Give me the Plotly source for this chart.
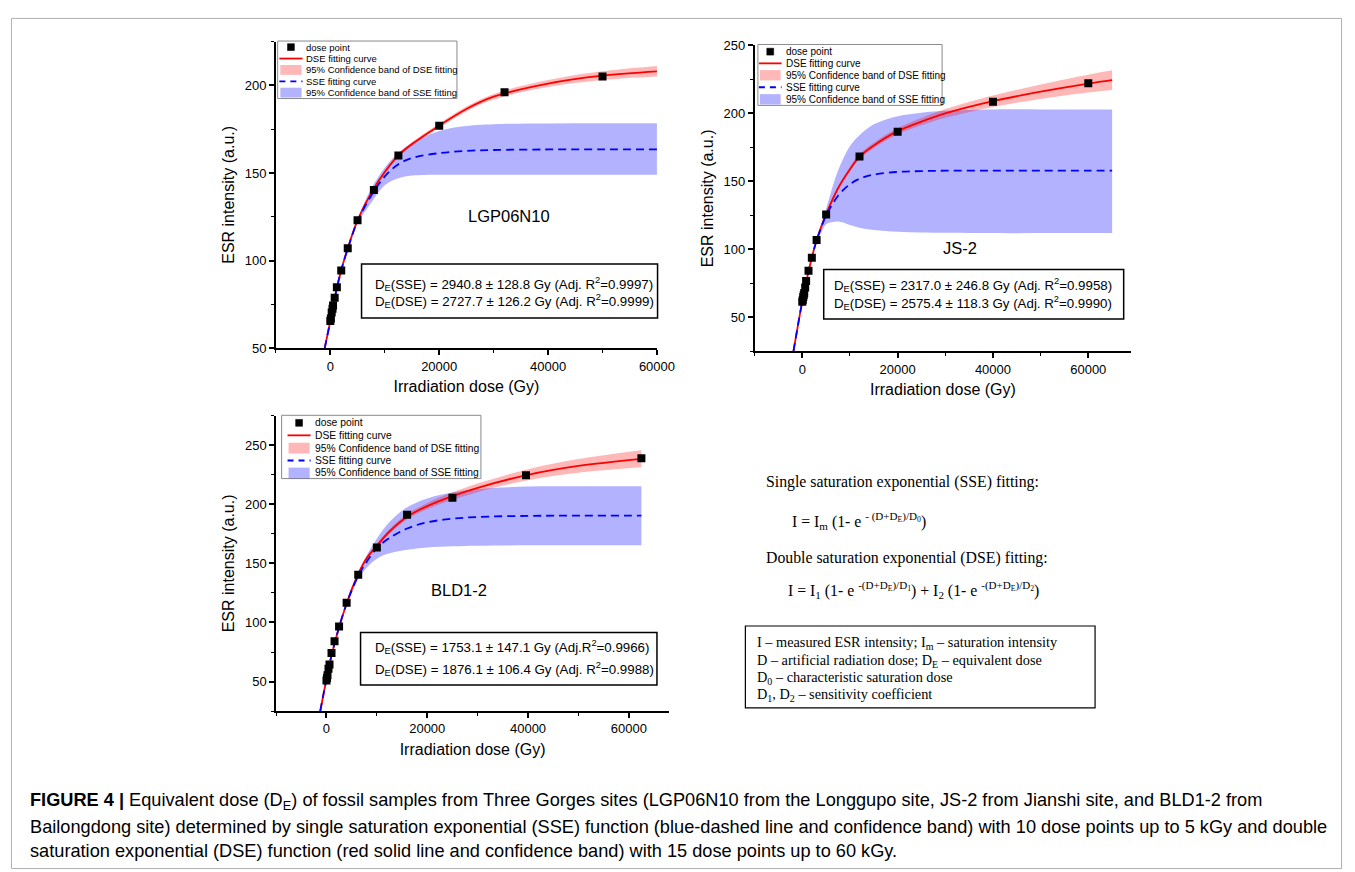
import plotly.graph_objects as go

W, H = 1355, 872

# ---------------- LGP06N10 ----------------
lgp_dose = [0, 100, 250, 400, 500, 800, 1200, 2000, 3200, 5000, 8000, 12500, 20000, 32000, 50000]
lgp_esr = [65.5, 67, 70.4, 72.5, 74.3, 78.8, 84.8, 94.3, 107, 123, 140.3, 160, 177, 196, 205]
lgp_cx = [-1030, 0, 1000, 2000, 3500, 5000, 7500, 10000, 12500, 15000, 20000, 25000, 30000, 40000, 50000, 60000]
lgp_dse = [50, 65.5, 81.5, 94.5, 110, 123, 138.5, 150.5, 160, 166.5, 177, 186.5, 193.5, 201, 205.5, 208]
lgp_dse_hi = [50.3, 66, 82, 95, 110.6, 123.7, 139.3, 151.4, 161, 167.6, 178.2, 187.9, 195.1, 203, 208, 211]
lgp_dse_lo = [49.7, 65, 81, 94, 109.4, 122.3, 137.7, 149.6, 159, 165.4, 175.8, 185.1, 191.9, 199, 203, 205]
lgp_sse = [50, 65.5, 81.5, 94.5, 109.5, 122.5, 137, 148, 155, 158.5, 161.3, 162.6, 163.1, 163.4, 163.5, 163.5]
lgp_sse_hi = [50.3, 66, 82, 95, 110.5, 124, 141, 153, 161.5, 167, 174, 176.8, 177.8, 178.2, 178.3, 178.3]
lgp_sse_lo = [49.7, 65, 81, 94, 108.5, 121, 133, 143, 147, 148.5, 149, 149, 149, 149, 149, 149]

# ---------------- JS-2 ----------------
js_dose = [0, 100, 200, 300, 400, 600, 800, 1300, 2000, 3000, 5000, 12000, 20000, 40000, 60000]
js_esr = [61.5, 63, 65, 66.5, 68, 72, 76.7, 84.4, 93.8, 106.9, 125.7, 168.3, 186.6, 208.6, 222.3]
js_cx = [-1860, 0, 1000, 2000, 3000, 4000, 5000, 7500, 10000, 12000, 15000, 20000, 25000, 30000, 40000, 50000, 60000, 65000]
js_dse = [25, 62, 79, 94, 107, 117, 126, 145, 159, 168.3, 176.5, 187, 194, 200, 209, 216, 222, 224.5]
js_dse_hi = [25.5, 63, 80, 95, 108, 118.2, 127.3, 146.5, 160.7, 170.1, 178.5, 189.3, 196.7, 203.2, 213.2, 221.3, 228.5, 231.7]
js_dse_lo = [24.5, 61, 78, 93, 106, 115.8, 124.7, 143.5, 157.3, 166.5, 174.5, 184.7, 191.3, 196.8, 204.8, 210.7, 215.5, 217.3]
js_sse = [25, 62, 79, 94, 106.5, 116.5, 125, 139.5, 148, 152, 155, 157, 157.6, 157.9, 158, 158, 158, 158]
js_sse_hi = [25.2, 62.5, 79.5, 95, 108, 119, 130, 158, 176, 184, 192, 198, 200.6, 202, 203, 203, 203, 203]
js_sse_lo = [24.8, 61.5, 78.5, 93, 105.5, 112.5, 118.5, 120.5, 118, 116, 114.3, 113, 112.4, 112.2, 112, 112, 112, 112]

# ---------------- BLD1-2 ----------------
bld_dose = [0, 100, 200, 400, 600, 1000, 1600, 2500, 4000, 6300, 10000, 16000, 25000, 39600, 62500]
bld_esr = [51, 53, 55.3, 60.8, 64.4, 74.1, 84.1, 96.6, 116.8, 140.4, 163.5, 191.2, 205.6, 224.5, 238.9]
bld_cx = [-1240, 0, 1000, 2500, 4000, 5000, 6300, 8000, 10000, 12500, 16000, 20000, 25000, 30000, 40000, 50000, 62500]
bld_dse = [25, 52, 72, 96, 116, 128, 141, 154.5, 165, 177, 189.5, 198.5, 207, 214, 225, 232.5, 238.5]
bld_dse_hi = [25.5, 53, 73, 97, 117.1, 129.2, 142.3, 156, 166.7, 179, 191.8, 201.2, 210.2, 217.7, 229.7, 238.3, 245.7]
bld_dse_lo = [24.5, 51, 71, 95, 114.9, 126.8, 139.7, 153, 163.3, 175, 187.2, 195.8, 203.8, 210.3, 220.3, 226.7, 231.3]
bld_sse = [25, 52, 72, 96, 116, 127, 139.5, 151.5, 163, 171.5, 179.5, 184.8, 187.8, 189.3, 190.2, 190.4, 190.4]
bld_sse_hi = [25.2, 52.3, 72.5, 96.7, 117, 129, 143, 157, 171, 185, 197.5, 205, 210, 213, 215, 215.3, 215.3]
bld_sse_lo = [24.8, 51.7, 71.5, 95.3, 115, 125, 136.5, 146.5, 154, 158.5, 161.5, 163.5, 164.5, 165, 165.3, 165.4, 165.4]

legend_labels = ["dose point", "DSE fitting curve", "95% Confidence band of DSE fitting",
                 "SSE fitting curve", "95% Confidence band of SSE fitting"]

RED = "#ff0000"
BLUE = "#0000ff"
RED_BAND = "rgba(255,0,0,0.28)"
BLUE_BAND = "rgba(0,0,255,0.30)"
SANS = "Liberation Sans, Arial, sans-serif"
SERIF = "Liberation Serif, Times New Roman, serif"

fig = go.Figure()


def px(x):
    return x / W


def py(y):
    return 1 - y / H


def add_panel(n, cx, dse, dse_hi, dse_lo, sse, sse_hi, sse_lo, dose, esr):
    xa = "x" if n == 1 else f"x{n}"
    ya = "y" if n == 1 else f"y{n}"
    common = dict(xaxis=xa, yaxis=ya, showlegend=False, hoverinfo="skip")
    fig.add_trace(go.Scatter(x=cx, y=sse_lo, mode="lines", line=dict(width=0, shape="spline"), **common))
    fig.add_trace(go.Scatter(x=cx, y=sse_hi, mode="lines", line=dict(width=0, shape="spline"),
                             fill="tonexty", fillcolor=BLUE_BAND, **common))
    fig.add_trace(go.Scatter(x=cx, y=dse_lo, mode="lines", line=dict(width=0, shape="spline"), **common))
    fig.add_trace(go.Scatter(x=cx, y=dse_hi, mode="lines", line=dict(width=0, shape="spline"),
                             fill="tonexty", fillcolor=RED_BAND, **common))
    fig.add_trace(go.Scatter(x=cx, y=dse, mode="lines", line=dict(color=RED, width=1.8, shape="spline"), **common))
    fig.add_trace(go.Scatter(x=cx, y=sse, mode="lines",
                             line=dict(color=BLUE, width=1.8, shape="spline", dash="8px,5px"), **common))
    fig.add_trace(go.Scatter(x=dose, y=esr, mode="markers",
                             marker=dict(symbol="square", size=8, color="black"), **common))


add_panel(1, lgp_cx, lgp_dse, lgp_dse_hi, lgp_dse_lo, lgp_sse, lgp_sse_hi, lgp_sse_lo, lgp_dose, lgp_esr)
add_panel(2, js_cx, js_dse, js_dse_hi, js_dse_lo, js_sse, js_sse_hi, js_sse_lo, js_dose, js_esr)
add_panel(3, bld_cx, bld_dse, bld_dse_hi, bld_dse_lo, bld_sse, bld_sse_hi, bld_sse_lo, bld_dose, bld_esr)


def xax(x0, x1, rng, anchor):
    return dict(domain=[px(x0), px(x1)], range=rng, anchor=anchor, showline=True, linecolor="black",
                linewidth=1.5, ticks="outside", ticklen=5, tickwidth=1.5, tickcolor="black",
                tick0=0, dtick=20000, tickformat="d",
                minor=dict(dtick=10000, tick0=0, ticks="outside", ticklen=3, tickwidth=1.2, tickcolor="black"),
                showgrid=False, zeroline=False, tickfont=dict(size=13, color="black", family=SANS),
                title=dict(text="Irradiation dose (Gy)", font=dict(size=16, color="black", family=SANS), standoff=8))


def yax(y0, y1, rng, anchor):
    return dict(domain=[py(y0), py(y1)], range=rng, anchor=anchor, showline=True, linecolor="black",
                linewidth=1.5, ticks="outside", ticklen=5, tickwidth=1.5, tickcolor="black",
                tick0=0, dtick=50,
                minor=dict(dtick=25, tick0=0, ticks="outside", ticklen=3, tickwidth=1.2, tickcolor="black"),
                showgrid=False, zeroline=False, tickfont=dict(size=13, color="black", family=SANS),
                title=dict(text="ESR intensity (a.u.)", font=dict(size=16, color="black", family=SANS), standoff=6))


fig.update_layout(
    width=W, height=H, margin=dict(l=0, r=0, t=0, b=0),
    paper_bgcolor="white", plot_bgcolor="rgba(0,0,0,0)",
    xaxis=xax(271.5, 657.7, [-10000, 60000], "y"),
    yaxis=yax(339, 27, [50, 225], "x"),
    xaxis2=xax(756.7, 1138.3, [-10000, 69000], "y2"),
    yaxis2=yax(342.3, 31, [25, 250], "x2"),
    xaxis3=xax(271.7, 670, [-10000, 68000], "y3"),
    yaxis3=yax(708.3, 407.7, [25, 275], "x3"),
    showlegend=False,
)

shapes = []
annotations = []


def rect(x0, y0, x1, y1, line_color="black", lw=1.5, fill="rgba(0,0,0,0)"):
    shapes.append(dict(type="rect", xref="paper", yref="paper", x0=px(x0), x1=px(x1), y0=py(y0), y1=py(y1),
                       line=dict(color=line_color, width=lw), fillcolor=fill, layer="above"))


def seg(x0, x1, y, color, lw, dash=None):
    ln = dict(color=color, width=lw)
    if dash:
        ln["dash"] = dash
    shapes.append(dict(type="line", xref="paper", yref="paper", x0=px(x0), x1=px(x1), y0=py(y), y1=py(y),
                       line=ln, layer="above"))


def text(x, y, s, size, family=SANS, xanchor="left", color="black"):
    annotations.append(dict(xref="paper", yref="paper", x=px(x), y=py(y), text=s, showarrow=False,
                            xanchor=xanchor, yanchor="middle", font=dict(size=size, family=family, color=color)))


def legend(box, rows, sx0, sx1, tx, fs, bh):
    x0, y0, x1, y1 = box
    rect(x0, y0, x1, y1, line_color="#8a8a8a", lw=1, fill="white")
    cxm = (sx0 + sx1) / 2
    rect(cxm - 3.5, rows[0] - 3.5, cxm + 3.5, rows[0] + 3.5, line_color="black", lw=0.5, fill="black")
    seg(sx0, sx1, rows[1], RED, 1.8)
    rect(sx0 + 1, rows[2] - bh / 2, sx1 - 1, rows[2] + bh / 2, line_color="rgba(0,0,0,0)", lw=0, fill=RED_BAND)
    seg(sx0, sx1, rows[3], BLUE, 1.8, dash="6px,5px")
    rect(sx0 + 1, rows[4] - bh / 2, sx1 - 1, rows[4] + bh / 2, line_color="rgba(0,0,0,0)", lw=0, fill=BLUE_BAND)
    for r, lab in zip(rows, legend_labels):
        text(tx, r, lab, fs)


legend((273.3, 26.5, 455, 85), [32.7, 44.3, 55.9, 67.5, 79], 275, 298.5, 299.5, 9.5, 10)
legend((760, 30, 946.7, 92), [37.3, 49.2, 61.3, 73.5, 85.8], 761, 784, 786, 10, 10.5)
legend((277.3, 407.3, 479.3, 471.7), [415, 427.7, 440.7, 453.3, 466], 283.3, 306.7, 309.5, 10.3, 11)

# result boxes and sample names
rect(358.3, 253.3, 658.3, 308.3)
text(370, 273.3, "D<sub>E</sub>(SSE) = 2940.8 ± 128.8 Gy (Adj. R<sup>2</sup>=0.9997)", 13.3)
text(370, 291.5, "D<sub>E</sub>(DSE) = 2727.7 ± 126.2 Gy (Adj. R<sup>2</sup>=0.9999)", 13.3)
text(508, 205, "LGP06N10", 16.5, xanchor="center")

rect(826.7, 259, 1130.7, 309.3)
text(835, 274.5, "D<sub>E</sub>(SSE) = 2317.0 ± 246.8 Gy (Adj. R<sup>2</sup>=0.9958)", 13.3)
text(835, 293.5, "D<sub>E</sub>(DSE) = 2575.4 ± 118.3 Gy (Adj. R<sup>2</sup>=0.9990)", 13.3)
text(965.3, 236.7, "JS-2", 16.5, xanchor="center")

rect(357.3, 628.3, 657.7, 681.7)
text(370, 643.3, "D<sub>E</sub>(SSE) = 1753.1 ± 147.1 Gy (Adj.R<sup>2</sup>=0.9966)", 13.3)
text(370, 665, "D<sub>E</sub>(DSE) = 1876.1 ± 106.4 Gy (Adj. R<sup>2</sup>=0.9988)", 13.3)
text(456.7, 585, "BLD1-2", 16.5, xanchor="center")

# formula block
FS = 15.8
text(766, 475, "Single saturation exponential (SSE) fitting:", FS, family=SERIF)
text(793, 515, "I = I<sub>m</sub> (1- e <sup>- (D+D<sub>E</sub>)/D<sub>0</sub></sup>)", FS, family=SERIF)
text(766, 553, "Double saturation exponential (DSE) fitting:", FS, family=SERIF)
text(788, 585, "I = I<sub>1</sub> (1- e <sup>-(D+D<sub>E</sub>)/D<sub>1</sub></sup>) + I<sub>2</sub> (1- e <sup>-(D+D<sub>E</sub>)/D<sub>2</sub></sup>)", FS, family=SERIF)

rect(747.3, 621.7, 1101.7, 705, lw=1.2)
BS = 14.3
text(756.7, 639, "I – measured ESR intensity; I<sub>m</sub> – saturation intensity", BS, family=SERIF)
text(756.7, 657.3, "D – artificial radiation dose; D<sub>E</sub> – equivalent dose", BS, family=SERIF)
text(756.7, 675, "D<sub>0</sub> – characteristic saturation dose", BS, family=SERIF)
text(756.7, 692.3, "D<sub>1</sub>, D<sub>2</sub> – sensitivity coefficient", BS, family=SERIF)

# caption
CAP = 18.2
text(20, 800, "<b>FIGURE 4 |</b> Equivalent dose (D<sub>E</sub>) of fossil samples from Three Gorges sites (LGP06N10 from the Longgupo site, JS-2 from Jianshi site, and BLD1-2 from", CAP)
text(20, 826, "Bailongdong site) determined by single saturation exponential (SSE) function (blue-dashed line and confidence band) with 10 dose points up to 5 kGy and double", CAP)
text(20, 851, "saturation exponential (DSE) function (red solid line and confidence band) with 15 dose points up to 60 kGy.", CAP)

# outer frame
rect(3.5, 3.5, 1351.5, 868.5, line_color="#b0b0b0", lw=1)

fig.update_layout(shapes=shapes, annotations=annotations)
fig.write_html("out.html")
